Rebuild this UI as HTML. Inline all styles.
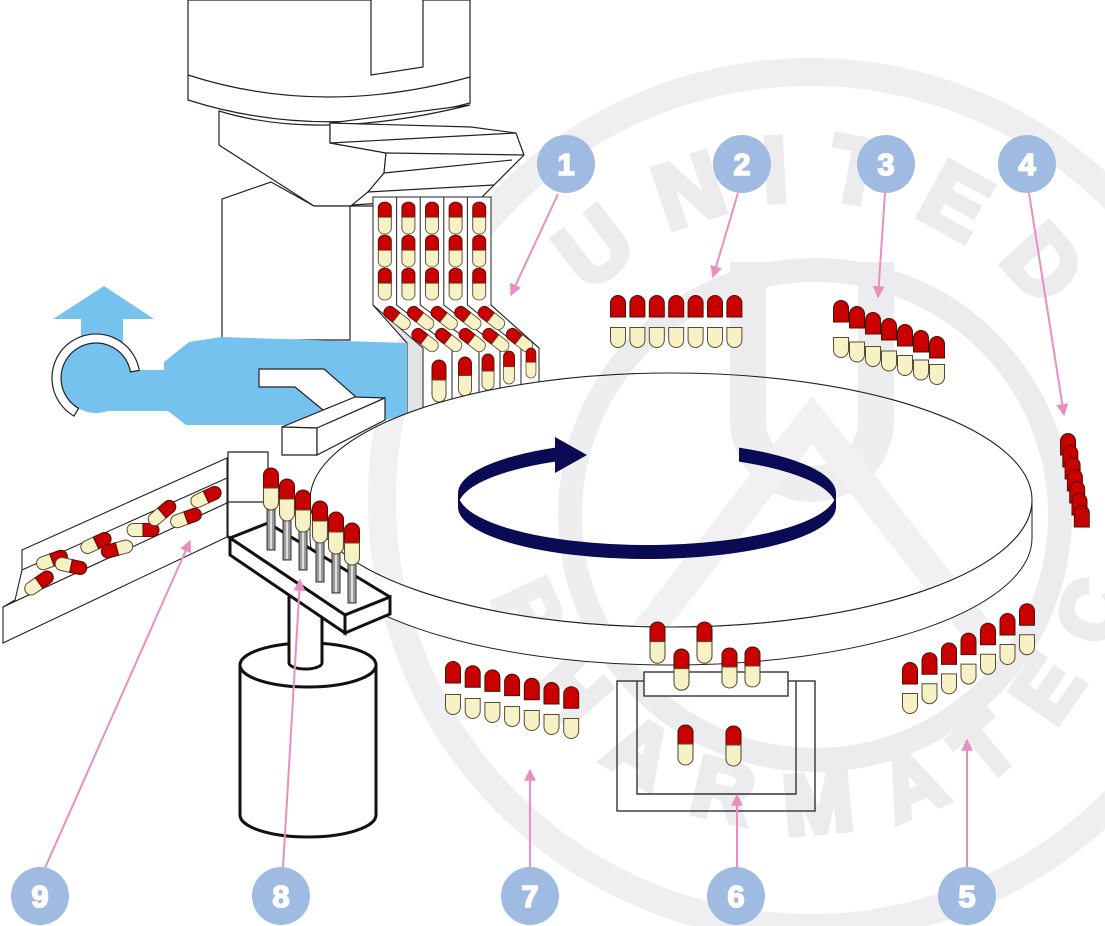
<!DOCTYPE html>
<html><head><meta charset="utf-8"><style>html,body{margin:0;padding:0;background:#fff;}svg{display:block}</style></head>
<body>
<svg width="1105" height="926" viewBox="0 0 1105 926" xmlns="http://www.w3.org/2000/svg" xmlns:xlink="http://www.w3.org/1999/xlink">
<defs>
 <path id="cap" d="M0.5,22 V8 A7.5,7.5 0 0 1 15.5,8 V22 Z" fill="#c80000" stroke="#4b1205" stroke-width="1"/>
 <path id="body" d="M0.5,0.5 H15.5 V13 A7.5,7.5 0 0 1 0.5,13 Z" fill="#f7f2c6" stroke="#5a4a30" stroke-width="1"/>
 <g id="cv">
  <path d="M0,19 V7 A7,7 0 0 1 14,7 V19 Z" fill="#c80000" stroke="#4b1205" stroke-width="1"/>
  <path d="M0,19 H14 V33 A7,7 0 0 1 0,33 Z" fill="#f7f2c6" stroke="#5a4a30" stroke-width="1"/>
 </g>
 <g id="ch">
  <path d="M16,0 H6.5 A6.5,6.5 0 0 0 6.5,13 H16 Z" fill="#f7f2c6" stroke="#5a4a30" stroke-width="1"/>
  <path d="M16,0 H25.5 A6.5,6.5 0 0 1 25.5,13 H16 Z" fill="#c80000" stroke="#4b1205" stroke-width="1"/>
 </g>
 <marker id="ah" viewBox="0 0 10 10" refX="9" refY="5" markerWidth="13" markerHeight="12" markerUnits="userSpaceOnUse" orient="auto">
  <path d="M0,0 L10,5 L0,10 Z" fill="#e98fc0"/>
 </marker>
 <clipPath id="dclip"><ellipse cx="671" cy="500" rx="360" ry="126"/></clipPath>
 <path id="wtop" d="M580,307 A300,300 0 0 1 1070,350"/>
 <path id="wbot" d="M483,546 A330,330 0 0 0 1140,500"/>
 <g id="wm">
  <circle cx="810" cy="500" r="428" fill="none" stroke="#efeff1" stroke-width="28"/>
  <circle cx="815" cy="515" r="245" fill="none" stroke="#ececef" stroke-width="24"/>
  <path d="M748,262 V420 A64,64 0 0 0 876,420 V262" fill="none" stroke="#ececef" stroke-width="36"/>
  <path d="M640,640 L812,420 L985,640" fill="none" stroke="#efeff1" stroke-width="30"/>
  <text font-family="Liberation Sans, sans-serif" font-weight="bold" font-size="92" fill="#ececef" stroke="#ececef" stroke-width="6" letter-spacing="34"><textPath href="#wtop" xlink:href="#wtop" startOffset="50%" text-anchor="middle">UNITED</textPath></text>
  <text font-family="Liberation Sans, sans-serif" font-weight="bold" font-size="84" fill="#ececef" stroke="#ececef" stroke-width="6" letter-spacing="40"><textPath href="#wbot" xlink:href="#wbot" startOffset="50%" text-anchor="middle">PHARMATEC</textPath></text>
 </g>
</defs>

<rect width="1105" height="926" fill="#fff"/>
<use href="#wm" xlink:href="#wm"/>

<!-- machine top -->
<g fill="#fff" stroke="#222" stroke-width="1.2">
 <path d="M188,0 V100 Q320,142 470,103 V0 Z"/>
 <path d="M188,75 Q321,118 470,77" fill="none"/>
 <path d="M371,0 V75 L423,67 V0"/>
 <path d="M219,111 L219,145 L314,206 L352,206 L368,192 L384,173 L386,153 L330,143 L330,123 L470,105 Q320,142 219,111 Z"/>
 <path d="M330,123 L471,127 L516,133 L524,155 L482,197 L352,205 L368,192 L384,173 L386,153 L330,143 Z"/>
 <path d="M330,143 L516,133 M386,153 L524,155 M384,173 L512,160 M368,192 L494,185" fill="none"/>
 <path d="M222,340 V199 L271,182 L314,206 L350,206 V340 Z"/>
 <path d="M350,206 L373,206" fill="none"/>
</g>

<!-- chutes -->
<path d="M373,197 L491,197 L491,305 L539,348 L539,420 L407,440 L407,343 L373,305 Z" fill="#fff" stroke="#222" stroke-width="1"/>
<path d="M373,305 L423,348 L423,440 L407,440 L407,343 Z" fill="#e4e4e6"/>
<g fill="none" stroke="#222" stroke-width="1">
 <path d="M373,197 V305 L407,343 V440"/>
 <path d="M373,305 L423,348 V440"/>
 <path d="M396.6,197 V305 L452,348 V440"/>
 <path d="M420.2,197 V305 L479,348 V440"/>
 <path d="M443.8,197 V305 L500,348 V440"/>
 <path d="M467.4,197 V305 L521,348 V440"/>
 <path d="M491,197 V305 L539,348 V440"/>
</g>
<g>
 <use href="#cv" xlink:href="#cv" transform="translate(378.3,202) scale(0.93,0.8)"/>
 <use href="#cv" xlink:href="#cv" transform="translate(401.9,202) scale(0.93,0.8)"/>
 <use href="#cv" xlink:href="#cv" transform="translate(425.5,202) scale(0.93,0.8)"/>
 <use href="#cv" xlink:href="#cv" transform="translate(449.1,202) scale(0.93,0.8)"/>
 <use href="#cv" xlink:href="#cv" transform="translate(472.7,202) scale(0.93,0.8)"/>
 <use href="#cv" xlink:href="#cv" transform="translate(378.3,235) scale(0.93,0.8)"/>
 <use href="#cv" xlink:href="#cv" transform="translate(401.9,235) scale(0.93,0.8)"/>
 <use href="#cv" xlink:href="#cv" transform="translate(425.5,235) scale(0.93,0.8)"/>
 <use href="#cv" xlink:href="#cv" transform="translate(449.1,235) scale(0.93,0.8)"/>
 <use href="#cv" xlink:href="#cv" transform="translate(472.7,235) scale(0.93,0.8)"/>
 <use href="#cv" xlink:href="#cv" transform="translate(378.3,268) scale(0.93,0.8)"/>
 <use href="#cv" xlink:href="#cv" transform="translate(401.9,268) scale(0.93,0.8)"/>
 <use href="#cv" xlink:href="#cv" transform="translate(425.5,268) scale(0.93,0.8)"/>
 <use href="#cv" xlink:href="#cv" transform="translate(449.1,268) scale(0.93,0.8)"/>
 <use href="#cv" xlink:href="#cv" transform="translate(472.7,268) scale(0.93,0.8)"/>
 <use href="#cv" xlink:href="#cv" transform="translate(397,318) rotate(-52) scale(0.86,0.75) translate(-7,-20)"/>
 <use href="#cv" xlink:href="#cv" transform="translate(420.6,318) rotate(-52) scale(0.86,0.75) translate(-7,-20)"/>
 <use href="#cv" xlink:href="#cv" transform="translate(444.2,318) rotate(-52) scale(0.86,0.75) translate(-7,-20)"/>
 <use href="#cv" xlink:href="#cv" transform="translate(467.8,318) rotate(-52) scale(0.86,0.75) translate(-7,-20)"/>
 <use href="#cv" xlink:href="#cv" transform="translate(491.4,318) rotate(-52) scale(0.86,0.75) translate(-7,-20)"/>
 <use href="#cv" xlink:href="#cv" transform="translate(425,340) rotate(-52) scale(0.86,0.75) translate(-7,-20)"/>
 <use href="#cv" xlink:href="#cv" transform="translate(448.6,340) rotate(-52) scale(0.86,0.75) translate(-7,-20)"/>
 <use href="#cv" xlink:href="#cv" transform="translate(472.2,340) rotate(-52) scale(0.86,0.75) translate(-7,-20)"/>
 <use href="#cv" xlink:href="#cv" transform="translate(495.8,340) rotate(-52) scale(0.86,0.75) translate(-7,-20)"/>
 <use href="#cv" xlink:href="#cv" transform="translate(519.4,340) rotate(-52) scale(0.86,0.75) translate(-7,-20)"/>
 <use href="#cv" xlink:href="#cv" transform="translate(432,360) scale(1,1.05)"/>
 <use href="#cv" xlink:href="#cv" transform="translate(458.5,357) scale(0.93,0.975)"/>
 <use href="#cv" xlink:href="#cv" transform="translate(482,354) scale(0.86,0.9)"/>
 <use href="#cv" xlink:href="#cv" transform="translate(503.5,351) scale(0.79,0.825)"/>
 <use href="#cv" xlink:href="#cv" transform="translate(526,348) scale(0.71,0.75)"/>
</g>

<!-- blue blower -->
<g fill="#76c2ef">
 <path d="M104,286 L154,319 L123,319 L123,345 L81,345 L81,319 L53,319 Z"/>
 <circle cx="96" cy="378" r="35"/>
 <path d="M407,343 L221,337 L189,342 L164,362 L164,370 L100,370 L100,411 L168,411 L186,425 L300,425 L385,420 L407,414 Z"/>
</g>
<path d="M139.3,370.4 A44,44 0 1 0 74,416.1 L78.5,408.3 A35,35 0 1 1 130.5,371.9 Z" fill="#fff" stroke="#222" stroke-width="1.2"/>
<path d="M259,369 L324,369 L356,397 L323,410 L295,387 L259,387 Z" fill="#fff" stroke="#222" stroke-width="1.2"/>

<!-- tray (9) -->
<g fill="#fff" stroke="#222" stroke-width="1.1">
 <path d="M22,550 L227,458 L227,503 L3,607 L15,600 L22,570 Z"/>
 <path d="M22,570 L227,478" fill="none"/>
 <path d="M3,607 L227,503 L227,537 L3,643 Z"/>
</g>
<g>
 <use href="#ch" xlink:href="#ch" transform="translate(39,583) rotate(-35) translate(-16,-6.5)"/>
 <use href="#ch" xlink:href="#ch" transform="translate(52,560) rotate(-20) translate(-16,-6.5)"/>
 <use href="#ch" xlink:href="#ch" transform="translate(71,566) rotate(12) translate(-16,-6.5)"/>
 <use href="#ch" xlink:href="#ch" transform="translate(96,543) rotate(-25) translate(-16,-6.5)"/>
 <use href="#ch" xlink:href="#ch" transform="translate(117,549) rotate(165) translate(-16,-6.5)"/>
 <use href="#ch" xlink:href="#ch" transform="translate(143,530) rotate(0) translate(-16,-6.5)"/>
 <use href="#ch" xlink:href="#ch" transform="translate(162,513) rotate(-40) translate(-16,-6.5)"/>
 <use href="#ch" xlink:href="#ch" transform="translate(186,518) rotate(-20) translate(-16,-6.5)"/>
 <use href="#ch" xlink:href="#ch" transform="translate(206,497) rotate(-25) translate(-16,-6.5)"/>
</g>

<!-- disk -->
<path d="M310,500 A361,127 0 0 0 1032,500 L1032,538 A361,127 0 0 1 310,538 Z" fill="#fff" stroke="#222" stroke-width="1"/>
<ellipse cx="671" cy="500" rx="361" ry="127" fill="#fff" stroke="#222" stroke-width="1.1"/>
<g clip-path="url(#dclip)" opacity="0.85"><use href="#wm" xlink:href="#wm"/></g>

<!-- rotation arrow -->
<g fill="#0a0a55">
 <path d="M458,507 A189,52 0 0 0 836,507 L836,493 A189,52 0 0 1 458,493 Z"/>
 <path d="M836,507 A189,52 0 0 0 739,461.6 L739,447.6 A189,52 0 0 1 836,493 Z"/>
 <path d="M458,507 A189,52 0 0 1 555,461.6 L555,473 L587,455 L555,437 L555,447.6 A189,52 0 0 0 458,493 Z"/>
</g>

<!-- scraper box + post -->
<g fill="#fff" stroke="#222" stroke-width="1.2">
 <path d="M282,427 L355,397 L385,398 L317,428 Z"/>
 <path d="M282,427 L317,428 L317,455 L282,455 Z"/>
 <path d="M317,428 L385,398 L385,420 L317,455 Z"/>
 <path d="M228,452 H268 V538 H228 Z"/>
 <path d="M228,502 H268" fill="none"/>
</g>

<!-- group 2 -->
<g>
 <use href="#cap" xlink:href="#cap" x="610" y="295"/><use href="#cap" xlink:href="#cap" x="629.4" y="295"/><use href="#cap" xlink:href="#cap" x="648.8" y="295"/><use href="#cap" xlink:href="#cap" x="668.2" y="295"/><use href="#cap" xlink:href="#cap" x="687.6" y="295"/><use href="#cap" xlink:href="#cap" x="707" y="295"/><use href="#cap" xlink:href="#cap" x="726.4" y="295"/>
 <use href="#body" xlink:href="#body" x="610" y="327"/><use href="#body" xlink:href="#body" x="629.4" y="327"/><use href="#body" xlink:href="#body" x="648.8" y="327"/><use href="#body" xlink:href="#body" x="668.2" y="327"/><use href="#body" xlink:href="#body" x="687.6" y="327"/><use href="#body" xlink:href="#body" x="707" y="327"/><use href="#body" xlink:href="#body" x="726.4" y="327"/>
</g>
<!-- group 3 -->
<g>
 <use href="#body" xlink:href="#body" x="833" y="337"/><use href="#body" xlink:href="#body" x="849" y="341.5"/><use href="#body" xlink:href="#body" x="865" y="346"/><use href="#body" xlink:href="#body" x="881" y="350.5"/><use href="#body" xlink:href="#body" x="897" y="355"/><use href="#body" xlink:href="#body" x="913" y="359.5"/><use href="#body" xlink:href="#body" x="929" y="364"/>
 <use href="#cap" xlink:href="#cap" x="833" y="300"/><use href="#cap" xlink:href="#cap" x="849" y="306"/><use href="#cap" xlink:href="#cap" x="865" y="312"/><use href="#cap" xlink:href="#cap" x="881" y="318"/><use href="#cap" xlink:href="#cap" x="897" y="324"/><use href="#cap" xlink:href="#cap" x="913" y="330"/><use href="#cap" xlink:href="#cap" x="929" y="336"/>
</g>
<!-- group 4 -->
<g>
 <use href="#cap" xlink:href="#cap" x="1060" y="433"/><use href="#cap" xlink:href="#cap" x="1062.3" y="445"/><use href="#cap" xlink:href="#cap" x="1064.6" y="457"/><use href="#cap" xlink:href="#cap" x="1066.9" y="469"/><use href="#cap" xlink:href="#cap" x="1069.2" y="481"/><use href="#cap" xlink:href="#cap" x="1071.5" y="493"/><use href="#cap" xlink:href="#cap" x="1073.8" y="505"/>
</g>
<!-- group 5 -->
<g>
 <use href="#cap" xlink:href="#cap" x="902" y="662"/><use href="#cap" xlink:href="#cap" x="921.5" y="652.2"/><use href="#cap" xlink:href="#cap" x="941" y="642.4"/><use href="#cap" xlink:href="#cap" x="960.5" y="632.6"/><use href="#cap" xlink:href="#cap" x="980" y="622.8"/><use href="#cap" xlink:href="#cap" x="999.5" y="613"/><use href="#cap" xlink:href="#cap" x="1019" y="603.2"/>
 <use href="#body" xlink:href="#body" x="902" y="693"/><use href="#body" xlink:href="#body" x="921.5" y="683.2"/><use href="#body" xlink:href="#body" x="941" y="673.4"/><use href="#body" xlink:href="#body" x="960.5" y="663.6"/><use href="#body" xlink:href="#body" x="980" y="653.8"/><use href="#body" xlink:href="#body" x="999.5" y="644"/><use href="#body" xlink:href="#body" x="1019" y="634.2"/>
</g>
<!-- group 7 -->
<g>
 <use href="#cap" xlink:href="#cap" x="445" y="661"/><use href="#cap" xlink:href="#cap" x="464.7" y="665.2"/><use href="#cap" xlink:href="#cap" x="484.4" y="669.4"/><use href="#cap" xlink:href="#cap" x="504.1" y="673.6"/><use href="#cap" xlink:href="#cap" x="523.8" y="677.8"/><use href="#cap" xlink:href="#cap" x="543.5" y="682"/><use href="#cap" xlink:href="#cap" x="563.2" y="686.2"/>
 <use href="#body" xlink:href="#body" x="445" y="694"/><use href="#body" xlink:href="#body" x="464.7" y="698"/><use href="#body" xlink:href="#body" x="484.4" y="702"/><use href="#body" xlink:href="#body" x="504.1" y="706"/><use href="#body" xlink:href="#body" x="523.8" y="710"/><use href="#body" xlink:href="#body" x="543.5" y="714"/><use href="#body" xlink:href="#body" x="563.2" y="718"/>
</g>
<!-- group 6 box -->
<g fill="none" stroke="#333" stroke-width="1.4">
 <rect x="617" y="681" width="198" height="130"/>
 <path d="M637,681 V794 H796 V681"/>
</g>
<use href="#cv" xlink:href="#cv" transform="translate(650,622) scale(1.07,1.03)"/>
<use href="#cv" xlink:href="#cv" transform="translate(697,622) scale(1.07,1.03)"/>
<rect x="644" y="672" width="144" height="24" fill="#fff" stroke="#333" stroke-width="1.4"/>
<use href="#cv" xlink:href="#cv" transform="translate(674,649) scale(1.07,1.03)"/>
<use href="#cv" xlink:href="#cv" transform="translate(722,648) scale(1.07,1.0)"/>
<use href="#cv" xlink:href="#cv" transform="translate(745,647) scale(1.07,1.0)"/>
<use href="#cv" xlink:href="#cv" transform="translate(678,725) scale(1.07,1.0)"/>
<use href="#cv" xlink:href="#cv" transform="translate(726,726) scale(1.07,1.0)"/>

<!-- motor cylinder and pin bar (8) -->
<g fill="#fff" stroke="#111" stroke-width="3">
 <path d="M240,665 V815 A68,22 0 0 0 376,815 V665 Z"/>
 <ellipse cx="308" cy="665" rx="68" ry="22"/>
 <path d="M289,590 V663 A16.5,6 0 0 0 322,663 V590 Z"/>
 <path d="M230,538 L268,523 L390,597 L345,615 Z" stroke-linejoin="round"/>
 <path d="M230,538 L345,615 L345,633 L230,555 Z"/>
 <path d="M345,615 L390,597 L390,614 L345,633 Z"/>
</g>
<g fill="#9a9a9a" stroke="#333" stroke-width="1">
 <rect x="267" y="508" width="8" height="42"/>
 <rect x="283" y="519" width="8" height="41"/>
 <rect x="299" y="530" width="8" height="40"/>
 <rect x="316" y="541" width="8" height="41"/>
 <rect x="332" y="552" width="8" height="41"/>
 <rect x="348" y="563" width="8" height="40"/>
</g>
<g stroke="#e0e0e0" stroke-width="2">
 <path d="M271,510 V549 M287,521 V559 M303,532 V569 M320,543 V581 M336,554 V592 M352,565 V602"/>
</g>
<g>
 <use href="#cv" xlink:href="#cv" transform="translate(263.5,468) scale(1.07,1.05)"/>
 <use href="#cv" xlink:href="#cv" transform="translate(279.5,479) scale(1.07,1.05)"/>
 <use href="#cv" xlink:href="#cv" transform="translate(295.5,490) scale(1.07,1.05)"/>
 <use href="#cv" xlink:href="#cv" transform="translate(312.5,501) scale(1.07,1.05)"/>
 <use href="#cv" xlink:href="#cv" transform="translate(328.5,512) scale(1.07,1.05)"/>
 <use href="#cv" xlink:href="#cv" transform="translate(344.5,523) scale(1.07,1.05)"/>
</g>

<!-- pink leader arrows -->
<g stroke="#e98fc0" stroke-width="2" fill="none" marker-end="url(#ah)">
 <line x1="558" y1="194" x2="511" y2="295"/>
 <line x1="738" y1="193" x2="713" y2="277"/>
 <line x1="885" y1="193" x2="878" y2="297"/>
 <line x1="1029" y1="193" x2="1064" y2="415"/>
 <line x1="967" y1="867" x2="967" y2="740"/>
 <line x1="737" y1="867" x2="737" y2="795"/>
 <line x1="530" y1="867" x2="530" y2="770"/>
 <line x1="283" y1="868" x2="300" y2="580"/>
 <line x1="45" y1="868" x2="190" y2="541"/>
</g>

<!-- number badges -->
<g fill="#9fbbe2">
 <circle cx="566" cy="164" r="29"/>
 <circle cx="742" cy="164" r="29"/>
 <circle cx="886" cy="164" r="29"/>
 <circle cx="1027" cy="164" r="29"/>
 <circle cx="967" cy="896" r="29"/>
 <circle cx="736" cy="896" r="29"/>
 <circle cx="530" cy="896" r="29"/>
 <circle cx="281" cy="896" r="29"/>
 <circle cx="40" cy="896" r="29"/>
</g>
<g fill="#fff" stroke="#fff" stroke-width="1.6" font-family="Liberation Sans, sans-serif" font-weight="bold" font-size="31" text-anchor="middle">
 <text x="566" y="175">1</text>
 <text x="742" y="175">2</text>
 <text x="886" y="175">3</text>
 <text x="1027" y="175">4</text>
 <text x="967" y="907">5</text>
 <text x="736" y="907">6</text>
 <text x="530" y="907">7</text>
 <text x="281" y="907">8</text>
 <text x="40" y="907">9</text>
</g>
</svg>
</body></html>
